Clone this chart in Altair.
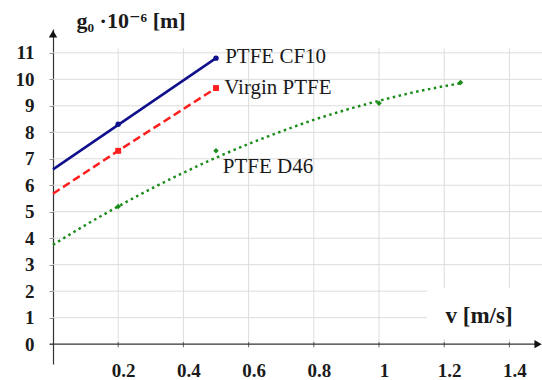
import altair as alt
import pandas as pd

# ---- data ----
cf10_x = [0.0, 0.2, 0.5]
cf10_y = [6.6, 8.28, 10.8]
cf10_mx = [0.2, 0.5]
cf10_my = [8.3, 10.8]

virgin_x = [0.0, 0.2, 0.5]
virgin_y = [5.68, 7.3, 9.67]
virgin_mx = [0.2, 0.5]
virgin_my = [7.3, 9.67]

d46_trend_x = [0.0, 0.1, 0.2, 0.3, 0.4, 0.5, 0.6, 0.7, 0.8, 0.9, 1.0, 1.1, 1.2, 1.25]
d46_trend_y = [3.75, 4.50, 5.20, 5.86, 6.47, 7.04, 7.56, 8.03, 8.47, 8.85, 9.19, 9.49, 9.74, 9.85]
d46_mx = [0.2, 0.5, 1.0, 1.25]
d46_my = [5.2, 7.3, 9.1, 9.88]

series_labels = ["PTFE CF10", "Virgin PTFE", "PTFE D46"]
label_x = [0.528, 0.525, 0.521]
label_y = [10.83, 9.66, 6.68]

y_ticks = [0, 1, 2, 3, 4, 5, 6, 7, 8, 9, 10, 11]
x_ticks = [0.2, 0.4, 0.6, 0.8, 1.0, 1.2, 1.4]

BLUE = "#10108c"
RED = "#ff1e1e"
GREEN = "#1a8c1a"
FONT = "Liberation Serif, DejaVu Serif, serif"

xs = alt.Scale(domain=[0, 1.5], nice=False, zero=False)
ys = alt.Scale(domain=[-0.75, 11.9], nice=False, zero=False)

xaxis = alt.Axis(values=x_ticks, format=".1~f", domain=False, ticks=False, grid=False,
                 labelFont=FONT, labelFontWeight="bold", labelFontSize=19, labelColor="#1a1a1a",
                 labelOffset=5, labelPadding=6, labelBaseline="middle",
                 title="v [m/s]", titleFont=FONT, titleFontWeight="bold", titleFontSize=23,
                 titleColor="#1a1a1a", titleX=445 - 53, titleY=-42, titleAlign="left",
                 titleBaseline="alphabetic", zindex=2)
yaxis = alt.Axis(values=y_ticks, domain=True, domainColor="#333333", domainWidth=1.2,
                 ticks=True, tickSize=4, tickColor="#999999", grid=False,
                 labelFont=FONT, labelFontWeight="bold", labelFontSize=19, labelColor="#1a1a1a",
                 labelPadding=15,
                 title="g₀ ·10⁻⁶ [m]", titleFont=FONT, titleFontWeight="bold", titleFontSize=22,
                 titleColor="#1a1a1a", titleAngle=0, titleX=23, titleY=-2, titleAlign="left",
                 titleBaseline="alphabetic")

X = alt.X("x:Q", scale=xs, axis=xaxis)
Y = alt.Y("y:Q", scale=ys, axis=yaxis)

# gridlines
hgrid = pd.DataFrame({"x": [0.0] * 11, "x2": [1.5] * 11, "y": y_ticks[1:]})
vgrid = pd.DataFrame({"x": x_ticks, "y": [0.0] * 7, "y2": [11.17] * 7})
xt = pd.DataFrame({"x": x_ticks, "y": [-0.12] * 7, "y2": [0.08] * 7})

hg = alt.Chart(hgrid).mark_rule(color="#dcdcdc", strokeWidth=1).encode(x=X, x2="x2:Q", y=Y)
vg = alt.Chart(vgrid).mark_rule(color="#dcdcdc", strokeWidth=1).encode(x=X, y=Y, y2="y2:Q")

# white box behind the x-axis title
box = pd.DataFrame({"x": [1.147], "x2": [1.5], "y": [0.2], "y2": [2.12]})
bx = alt.Chart(box).mark_rect(color="white").encode(x=X, x2="x2:Q", y=Y, y2="y2:Q")

# x axis line with arrow
xline = pd.DataFrame({"x": [-0.01], "x2": [1.49], "y": [0.0]})
xl = alt.Chart(xline).mark_rule(color="#333333", strokeWidth=1.2).encode(x=X, x2="x2:Q", y=Y)
xtk = alt.Chart(xt).mark_rule(color="#666666", strokeWidth=1).encode(x=X, y=Y, y2="y2:Q")
arrows = pd.DataFrame({"x": [1.488], "y": [0.0]})
xa = alt.Chart(arrows).mark_point(shape="triangle-right", filled=True, size=70,
                                  color="#111111", opacity=1).encode(x=X, y=Y)
yarr = pd.DataFrame({"x": [0.0], "y": [11.72]})
ya = alt.Chart(yarr).mark_point(shape="triangle-up", filled=True, size=70,
                                color="#111111", opacity=1).encode(x=X, y=Y)

# series
cf = alt.Chart(pd.DataFrame({"x": cf10_x, "y": cf10_y})).mark_line(
    color=BLUE, strokeWidth=2.5).encode(x=X, y=Y)
cfm = alt.Chart(pd.DataFrame({"x": cf10_mx, "y": cf10_my})).mark_point(
    shape="circle", filled=True, size=30, color=BLUE, opacity=1).encode(x=X, y=Y)

vp = alt.Chart(pd.DataFrame({"x": virgin_x, "y": virgin_y})).mark_line(
    color=RED, strokeWidth=2.5, strokeDash=[8, 4]).encode(x=X, y=Y)
vpm = alt.Chart(pd.DataFrame({"x": virgin_mx, "y": virgin_my})).mark_point(
    shape="square", filled=True, size=35, color=RED, opacity=1).encode(x=X, y=Y)

dt = alt.Chart(pd.DataFrame({"x": d46_trend_x, "y": d46_trend_y})).mark_line(
    color=GREEN, strokeWidth=2.5, strokeDash=[2.5, 3.5], interpolate="monotone").encode(x=X, y=Y)
dm = alt.Chart(pd.DataFrame({"x": d46_mx, "y": d46_my})).mark_point(
    shape="diamond", filled=True, size=30, color=GREEN, opacity=1).encode(x=X, y=Y)

lab = alt.Chart(pd.DataFrame({"x": label_x, "y": label_y, "t": series_labels})).mark_text(
    align="left", baseline="middle", font=FONT, fontSize=21, color="#1a1a1a").encode(
    x=X, y=Y, text="t:N")

chart = alt.layer(hg, vg, bx, xtk, xl, xa, ya, dt, dm, vp, vpm, cf, cfm, lab).properties(
    width=489, height=335,
    padding={"left": 53, "top": 29, "right": 0, "bottom": 16},
    autosize=alt.AutoSizeParams(type="none"),
    background="white",
).configure_view(stroke=None)

chart.save("out.html", embed_options={"renderer": "svg", "actions": False})
